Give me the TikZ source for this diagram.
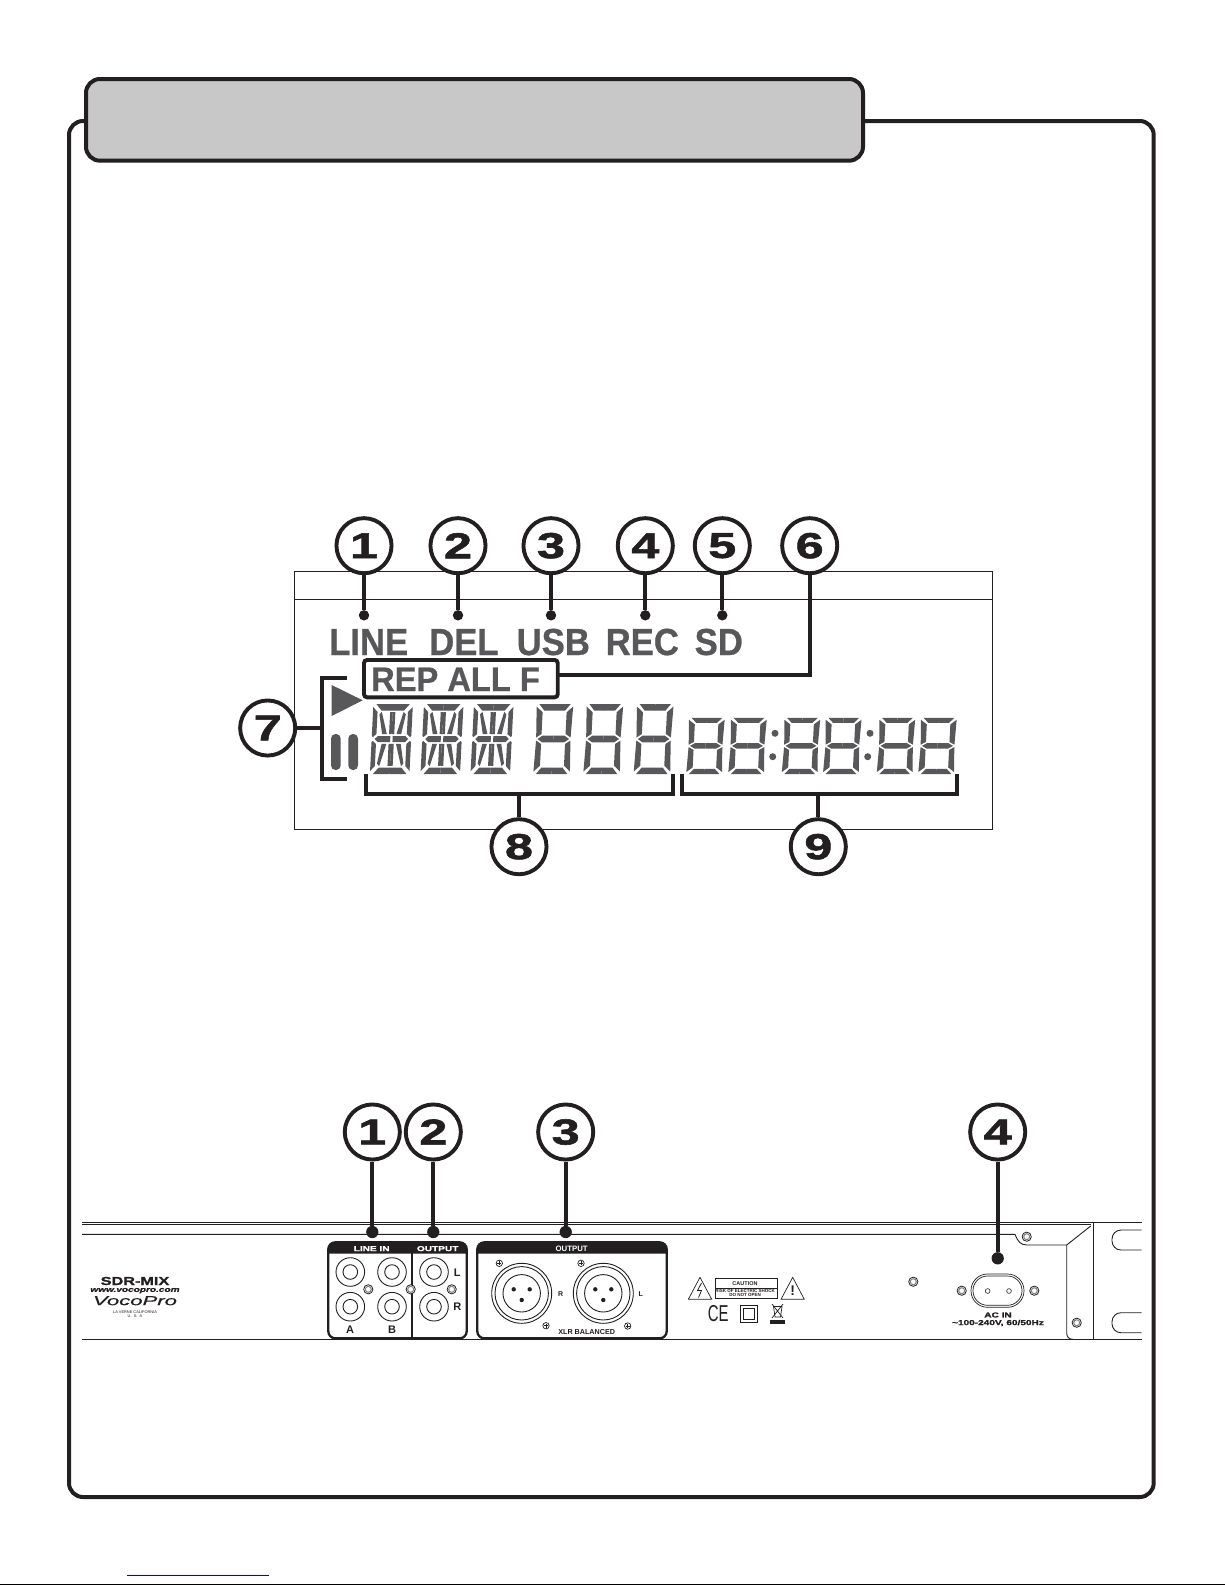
\documentclass[tikz,border=0pt]{standalone}
\usepackage{fontspec}
\setmainfont{Liberation Sans}
\newfontfamily\calloutfont[FakeStretch=1.4,FakeBold=1.6]{Liberation Sans}
\newfontfamily\lcdfont[FakeStretch=.92,FakeBold=.7]{Liberation Sans}
\newfontfamily\repfont[FakeStretch=.96,FakeBold=.7]{Liberation Sans}
\newfontfamily\logofont[FakeStretch=1.7,FakeBold=.5]{Liberation Sans}
\usetikzlibrary{positioning}

\definecolor{ink}{HTML}{231F20}
\definecolor{lcdgray}{HTML}{58585A}
\definecolor{tabgray}{HTML}{C8C8C8}

\tikzset{
  callout/.style={circle,draw=ink,line width=3.9pt,fill=white,minimum size=55.1pt,inner sep=0pt,
    text=ink,font=\calloutfont\bfseries\fontsize{36}{36}\selectfont},
  lead/.style={draw=ink,line width=3.9pt},
  tipdot/.style={circle,fill=ink,minimum size=10.4pt,inner sep=0pt},
  tipdotbig/.style={circle,fill=ink,minimum size=12.3pt,inner sep=0pt},
  lcdtext/.style={anchor=base west,inner sep=0pt,text=lcdgray,font=\lcdfont\bfseries\fontsize{37.7}{37.7}\selectfont},
  lcdseg/.style={fill=lcdgray},
  rearline/.style={draw=ink,line width=0.9pt},
  panelbox/.style={draw=ink,line width=2.3pt,rounded corners=7pt},
  paneltitle/.style={inner sep=0pt,text=white,font=\calloutfont\bfseries\fontsize{7.2}{8}\selectfont},
  jacklabel/.style={inner sep=0pt,text=ink,font=\bfseries\fontsize{#1}{#1}\selectfont},
  jacklabel/.default=11
}

% one seven segment digit, given by its centre and two scales
\newcommand{\lcdseven}[4]{
  \foreach \sx/\sy in {1/1,-1/1,1/-1,-1/-1}{
    \begin{scope}[shift={(#1,#2)},xslant=.05,xscale=#3*\sx,yscale=#4*\sy]
      \fill[lcdseg] (-15.7,-35) -- (0.05,-35) -- (0.05,-28.5) -- (-10.5,-28.5) -- cycle;
      \fill[lcdseg] (-18.25,-32.5) -- (-12,-26.7) -- (-12,-5) -- (-17.2,-1.5) -- cycle;
      \fill[lcdseg] (-15.8,0.05) -- (-11,-3.4) -- (0.05,-3.4) -- (0.05,0.05) -- cycle;
    \end{scope}
  }
}

% one fourteen segment digit, same arguments
\newcommand{\lcdfourteen}[4]{
  \foreach \sx/\sy in {1/1,-1/1,1/-1,-1/-1}{
    \begin{scope}[shift={(#1,#2)},xslant=.05,xscale=#3*\sx,yscale=#4*\sy]
      \fill[lcdseg] (-16.75,-35) -- (0.05,-35) -- (0.05,-28.5) -- (-11.25,-28.5) -- cycle;
      \fill[lcdseg] (-19.75,-32) -- (-15.2,-27) -- (-15.2,-5) -- (-18.5,-2) -- (-19.75,-3) -- cycle;
      \fill[lcdseg] (-13.2,-24.5) -- (-10.9,-27.2) -- (-4.8,-4.8) -- (-9.5,-4.8) -- cycle;
      \fill[lcdseg] (-2.6,-26.8) -- (0.05,-26.8) -- (0.05,-4.8) -- (-2.6,-4.8) -- cycle;
      \fill[lcdseg] (-16.75,0.05) -- (-13.75,-3) -- (-1.2,-3) -- (-1.2,0.05) -- cycle;
    \end{scope}
  }
}

% small screw heads of the rear panel
\newcommand{\ringscrew}[2]{
  \draw[ink,line width=0.8pt] (#1,#2) circle (4.6pt);
  \draw[gray,line width=1pt] (#1,#2) circle (3pt);
}
\newcommand{\crossscrew}[2]{
  \draw[ink,line width=0.7pt] (#1,#2) circle (3.2pt);
  \draw[ink,line width=0.6pt] (#1-2,#2) -- (#1+2,#2) (#1,#2-2) -- (#1,#2+2);
}

\begin{document}
\begin{tikzpicture}[x=1pt,y=-1pt]
  \useasboundingbox (0,0) rectangle (1225,1585);

  % Page frame and title tab
  \draw[ink,line width=4pt,rounded corners=14pt] (69,121) rectangle (1153.7,1497);
  \draw[ink,fill=tabgray,line width=4pt,rounded corners=14pt] (86,79) rectangle (863,160.7);

  % Foot of the page
  \draw[blue!85!black,line width=1pt] (127,1575.3) -- (269,1575.3);
  \draw[black,line width=1pt] (0,1584.5) -- (1225,1584.5);

  % Display outline
  \draw[ink,line width=1pt] (294.3,571.3) rectangle (992.3,829.3);
  \draw[ink,line width=1pt] (294.3,599.3) -- (992.3,599.3);

  % Status words
  \node[lcdtext] (line) at (329,655) {LINE};
  \node[lcdtext] (del) at (429,655) {DEL};
  \node[lcdtext] (usb) at (516.5,655) {USB};
  \node[lcdtext] (rec) at (605.5,655) {REC};
  \node[lcdtext] (sd) at (694.5,655) {SD};
  \node[lcdtext,font=\repfont\bfseries\fontsize{34}{34}\selectfont] (rep) at (371,691) {REP ALL F};
  \draw[ink,line width=3.9pt,rounded corners=3pt] (364,660) rectangle (557.7,697.3);
  \coordinate (repend) at (557.7,675.3);

  % Play and pause marks
  \fill[lcdgray] (331.7,685) -- (362.7,700.3) -- (331.7,716) -- cycle;
  \fill[lcdgray,rounded corners=4.5pt] (331,734) rectangle (340.7,770);
  \fill[lcdgray,rounded corners=4.5pt] (348.3,734) rectangle (358,770);

  % Digits
  \foreach \cx in {391.4,442,492}{\lcdfourteen{\cx}{739}{1}{1}}
  \foreach \cx in {553.3,603.3,653.6}{\lcdseven{\cx}{739}{1}{1}}
  \foreach \cx in {705.5,747.5,801,842.3,896,937.5}{\lcdseven{\cx}{745.9}{.98}{.804}}
  \foreach \cx in {775,870}{
    \fill[lcdgray] (\cx,733.3) circle (3.5pt);
    \fill[lcdgray] (\cx-2.3,756.7) circle (3.5pt);
  }

  % Numbered callouts of the display
  \node[callout] (c1) at (364,545.7) {1};
  \node[callout] (c2) at (458,545.7) {2};
  \node[callout] (c3) at (551,545.7) {3};
  \node[callout] (c4) at (645.3,545.7) {4};
  \node[callout] (c5) at (722.3,545.7) {5};
  \node[callout] (c6) at (809.7,545.7) {6};
  \node[callout] (c7) at (267.7,728) {7};
  \node[callout] (c8) at (519,846.7) {8};
  \node[callout] (c9) at (818.3,846.7) {9};

  \node[tipdot] (d1) at (364,615.3) {};
  \node[tipdot] (d2) at (458,615.3) {};
  \node[tipdot] (d3) at (551,615.3) {};
  \node[tipdot] (d4) at (645.3,615.3) {};
  \node[tipdot] (d5) at (722.3,615.3) {};
  \foreach \n in {1,...,5}{\draw[lead] (c\n) -- (d\n);}
  \draw[lead] (c6) |- (repend);

  % Brackets
  \coordinate (b7) at (321.7,728);
  \draw[lead] (346.7,678.3) -| (321.7,778.7) -- (346.7,778.7);
  \draw[lead] (c7) -- (b7);
  \coordinate (b8) at (519,793.7);
  \draw[lead] (365.7,774) |- (672.7,793.7) -- (672.7,774);
  \draw[lead] (c8) -- (b8);
  \coordinate (b9) at (818.3,793.7);
  \draw[lead] (681.7,774) |- (957.3,793.7) -- (957.3,774);
  \draw[lead] (c9) -- (b9);

  % Rear panel body
  \draw[rearline] (82,1222.6) -- (1141.7,1222.6);
  \draw[rearline] (82,1224.8) -- (1090.7,1224.8);
  \draw[rearline] (82,1234.3) -- (1015,1234.3) .. controls (1018,1242) and (1021,1245) .. (1027,1245) -- (1066.7,1245) -- (1090.7,1226);
  \draw[rearline] (1066.7,1245) -- (1066.7,1333) .. controls (1066.7,1337) and (1069,1339.3) .. (1073,1339.3);
  \draw[rearline] (82,1339.3) -- (1141.7,1339.3);
  \draw[rearline] (1093.3,1222.6) -- (1093.3,1339.3);
  \draw[rearline,rounded corners=9pt] (1141.7,1230) -- (1112,1230) -- (1112,1250) -- (1141.7,1250);
  \draw[rearline,rounded corners=9pt] (1141.7,1312.7) -- (1112,1312.7) -- (1112,1332.7) -- (1141.7,1332.7);
  \ringscrew{1026.7}{1236.7}
  \ringscrew{913.3}{1281.7}
  \ringscrew{961.7}{1290.7}
  \ringscrew{1034.3}{1290.7}
  \ringscrew{1076.7}{1322.7}

  % Maker's marks
  \node[inner sep=0pt,text=ink,font=\calloutfont\bfseries\fontsize{11.6}{12}\selectfont] (model) at (135,1281) {SDR-MIX};
  \node[inner sep=0pt,text=ink,font=\calloutfont\bfseries\itshape\fontsize{7.2}{8}\selectfont] (site) at (135,1290.7) {www.vocopro.com};
  \node[inner sep=0pt,text=ink,font=\logofont\itshape\fontsize{13}{13}\selectfont] (logo) at (135,1300.7) {VocoPro};
  \node[inner sep=0pt,text=ink,font=\fontsize{3.9}{4}\selectfont] (town) at (135,1311.7) {LA VERNE CALIFORNIA};
  \node[inner sep=0pt,text=ink,font=\fontsize{3.9}{4}\selectfont] (land) at (135,1316) {U.\ \ S.\ \ A};

  % Line in and output jacks
  \draw[panelbox] (328.3,1242.3) rectangle (466.7,1338.3);
  \fill[ink] (328.3,1253.5) [rounded corners=7pt] -- (328.3,1242.3) -- (466.7,1242.3) [sharp corners] -- (466.7,1253.5) -- cycle;
  \draw[ink,line width=2pt] (412.3,1242.3) -- (412.3,1338.3);
  \node[paneltitle] (linein) at (371.7,1248.6) {LINE IN};
  \node[paneltitle] (outa) at (437.7,1248.6) {OUTPUT};
  \foreach \jx/\jy in {350.3/1272,392/1272,350.3/1306.7,392/1306.7,434/1272,434/1306.7}{
    \draw[ink,line width=0.9pt] (\jx,\jy) circle (14.3pt);
    \draw[ink,line width=0.9pt] (\jx,\jy) circle (7.3pt);
  }
  \ringscrew{368.3}{1289.3}
  \fill[white] (410.7,1289.3) circle (4.6pt);
  \ringscrew{410.7}{1289.3}
  \ringscrew{451.7}{1289.3}
  \node[jacklabel] (jl) at (457.3,1272.3) {L};
  \node[jacklabel] (jr) at (457.3,1306.7) {R};
  \node[jacklabel] (ja) at (350,1330) {A};
  \node[jacklabel] (jb) at (392,1330) {B};

  % XLR output block
  \draw[panelbox] (477.3,1242.3) rectangle (666.7,1338.3);
  \fill[ink] (477.3,1253.7) [rounded corners=7pt] -- (477.3,1242.3) -- (666.7,1242.3) [sharp corners] -- (666.7,1253.7) -- cycle;
  \node[paneltitle,font=\bfseries\fontsize{7.8}{8}\selectfont] (outb) at (571.7,1248.6) {OUTPUT};
  \foreach \xc in {521.7,603.3}{
    \draw[ink,line width=0.9pt] (\xc,1293.3) circle (30pt);
    \draw[ink,line width=0.9pt] (\xc,1293.3) circle (26.7pt);
    \draw[ink,line width=0.9pt] (\xc,1293.3) circle (18.7pt);
    \fill[ink] (\xc-8,1289.3) circle (2.2pt);
    \fill[ink] (\xc+8,1289.3) circle (2.2pt);
    \fill[ink] (\xc,1300) circle (2.2pt);
  }
  \crossscrew{499.3}{1263.3}
  \crossscrew{546}{1325.7}
  \crossscrew{581}{1263.3}
  \crossscrew{627.7}{1326}
  \node[jacklabel=7] (xr) at (560.7,1294.3) {R};
  \node[jacklabel=7] (xl) at (640.7,1294.3) {L};
  \node[inner sep=0pt,text=ink,font=\bfseries\fontsize{7.2}{8}\selectfont] (xlrname) at (586.7,1332.3) {XLR BALANCED};

  % Warning marks
  \draw[ink,line width=0.7pt,line join=round] (688.3,1299.3) -- (700,1277.3) -- (711.7,1299.3) -- cycle;
  \draw[ink,line width=0.8pt] (701.5,1283) -- (697.5,1290.5) -- (701.5,1290.5) -- (698.5,1297.5);
  \draw[ink,line width=0.7pt,line join=round] (781,1299.3) -- (792.7,1277.3) -- (804.3,1299.3) -- cycle;
  \node[inner sep=0pt,text=ink,font=\bfseries\fontsize{14}{14}\selectfont] (warn) at (792.7,1290.5) {!};
  \draw[ink,line width=0.7pt] (715.7,1278.7) rectangle (777.3,1298.7);
  \draw[ink,line width=0.7pt] (715.7,1288.3) -- (777.3,1288.3);
  \node[inner sep=0pt,text=ink,font=\bfseries\fontsize{5.5}{6}\selectfont] (caut) at (745,1283.4) {CAUTION};
  \node[inner sep=0pt,text=ink,font=\bfseries\fontsize{4.5}{5}\selectfont] (risk) at (745,1290.6) {RISK OF ELECTRIC SHOCK};
  \node[inner sep=0pt,text=ink,font=\bfseries\fontsize{4.5}{5}\selectfont] (open) at (745,1295.4) {DO NOT OPEN};
  \node[inner sep=0pt,text=ink,font=\fontsize{23}{23}\selectfont] (ce) at (718.3,1314) {\scalebox{.65}[1]{CE}};
  \draw[ink,line width=1pt] (740.3,1305) rectangle (757.7,1322.3);
  \draw[ink,line width=1pt] (743.5,1308.3) rectangle (754.5,1319);
  \draw[ink,line width=0.7pt] (772,1304) -- (783,1318) (783,1304) -- (772,1318);
  \draw[ink,line width=0.7pt] (773.5,1306.5) -- (775,1317) -- (780.5,1317) -- (782,1306.5) -- cycle;
  \fill[ink] (770,1320) rectangle (785,1324);

  % AC inlet
  \draw[ink,line width=0.7pt,rounded corners=16.5pt] (971,1274) rectangle (1024,1307.3);
  \draw[ink,line width=0.7pt,rounded corners=14.5pt] (973,1276) rectangle (1022,1305.3);
  \draw[ink,line width=0.6pt] (987.7,1291) circle (2.4pt);
  \draw[ink,line width=0.6pt] (1009,1291) circle (2.4pt);
  \node[inner sep=0pt,text=ink,font=\calloutfont\bfseries\fontsize{7.2}{8}\selectfont] (acin) at (998,1315) {AC IN};
  \node[inner sep=0pt,text=ink,font=\calloutfont\bfseries\fontsize{7.2}{8}\selectfont] (acvolt) at (998,1323) {\char"007E 100-240V, 60/50Hz};

  % Numbered callouts of the rear panel
  \node[callout] (r1) at (372.3,1132) {1};
  \node[callout] (r2) at (433.3,1132) {2};
  \node[callout] (r3) at (565.7,1132) {3};
  \node[callout] (r4) at (997.7,1132) {4};
  \node[tipdotbig] (p1) at (372.3,1232) {};
  \node[tipdotbig] (p2) at (433.3,1232) {};
  \node[tipdotbig] (p3) at (565.7,1232) {};
  \node[tipdotbig] (p4) at (997.7,1258.3) {};
  \foreach \n in {1,...,4}{\draw[lead] (r\n) -- (p\n);}

\end{tikzpicture}
\end{document}
